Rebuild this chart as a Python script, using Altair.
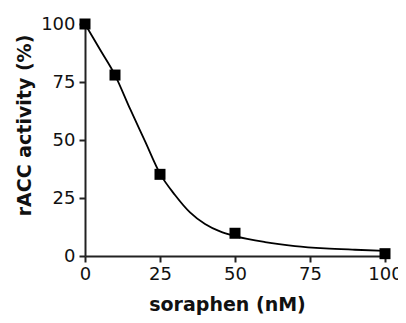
import altair as alt
import pandas as pd

# measured points
conc = [0, 10, 25, 50, 100]
activity = [100, 78, 35.2, 9.8, 1.0]

# fitted curve
curve_x = [0, 5, 10, 15, 20, 25, 30, 35, 40, 45, 50, 60, 70, 80, 90, 100]
curve_y = [100, 89, 78, 63.5, 49.5, 35.5, 26.3, 18.8, 13.8, 10.6, 8.6, 6.0, 4.3, 3.3, 2.7, 2.2]

ticks = [0, 25, 50, 75, 100]

pts = pd.DataFrame({"x": conc, "y": activity})
crv = pd.DataFrame({"x": curve_x, "y": curve_y})

FONT = "DejaVu Sans"

xscale = alt.Scale(domain=[0, 100], nice=False, zero=False)
yscale = alt.Scale(domain=[0, 100], nice=False, zero=False)

xaxis = alt.Axis(
    title="soraphen (nM)", values=ticks, grid=False,
    labelFont=FONT, labelFontSize=18, labelColor="#111",
    titleFont=FONT, titleFontSize=19, titleFontWeight="bold", titleColor="#111",
    domainColor="#222", domainWidth=2, tickColor="#222", tickWidth=2, tickSize=6,
    labelPadding=3, titlePadding=12, titleX=142, labelFlush=False, labelOverlap=False,
)
yaxis = alt.Axis(
    title="rACC activity (%)", values=ticks, grid=False,
    labelFont=FONT, labelFontSize=18, labelColor="#111",
    titleFont=FONT, titleFontSize=19, titleFontWeight="bold", titleColor="#111",
    domainColor="#222", domainWidth=2, tickColor="#222", tickWidth=2, tickSize=6,
    labelPadding=4, titlePadding=6, titleY=101, labelFlush=False, labelOverlap=False,
)

line = alt.Chart(crv).mark_line(color="black", strokeWidth=1.8, interpolate="monotone", clip=True).encode(
    x=alt.X("x:Q", scale=xscale, axis=xaxis),
    y=alt.Y("y:Q", scale=yscale, axis=yaxis),
)
points = alt.Chart(pts).mark_point(shape="square", filled=True, color="black", size=121, opacity=1).encode(
    x=alt.X("x:Q", scale=xscale),
    y=alt.Y("y:Q", scale=yscale),
)

chart = (line + points).properties(
    width=300, height=232,
    autosize=alt.AutoSizeParams(type="none"),
    padding={"left": 77, "top": 16, "right": 13, "bottom": 59},
).configure_view(stroke=None)

chart.save("out.html", embed_options={"renderer": "svg", "actions": False})
